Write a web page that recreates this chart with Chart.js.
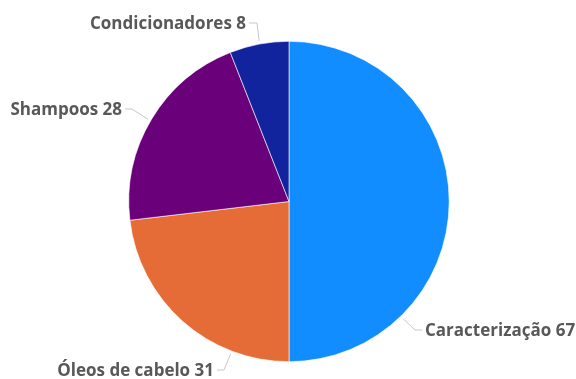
<!DOCTYPE html>
<html>
<head>
<meta charset="utf-8">
<script src="https://cdn.jsdelivr.net/npm/chart.js@4"></script>
<style>
  html, body { margin: 0; padding: 0; background: #fff; }
  #wrap { width: 576px; height: 379px; }
</style>
</head>
<body>
<div id="wrap"><canvas id="myChart"></canvas></div>
<script>
let categorias = ['Caracterização', 'Óleos de cabelo', 'Shampoos', 'Condicionadores'];
let valores = [67, 31, 28, 8];
let cores = ['#118DFF', '#E66C37', '#6B007B', '#12239E'];

// where each outside label sits (text edge x, middle y, side)
let rotulos = [
  { x: 425, y: 331, lado: 'dir' },
  { x: 214, y: 371, lado: 'esq' },
  { x: 122, y: 110, lado: 'esq' },
  { x: 246, y: 24, lado: 'esq' }
];

// labels outside the pie with a thin leader line
const rotulosFora = {
  id: 'rotulosFora',
  afterDraw(chart) {
    const ctx = chart.ctx;
    const arcos = chart.getDatasetMeta(0).data;
    ctx.save();
    ctx.font = '700 17px "Open Sans", sans-serif';
    ctx.textBaseline = 'middle';
    arcos.forEach((arco, i) => {
      const r = rotulos[i];
      const cx = arco.x, cy = arco.y, raio = arco.outerRadius;
      const fimX = r.lado === 'dir' ? r.x - 10 : r.x + 10;
      // direction towards the label, kept inside the slice
      let ang = Math.atan2(r.y - cy, fimX - cx);
      let a0 = arco.startAngle, a1 = arco.endAngle;
      while (ang < a0) ang += Math.PI * 2;
      while (ang > a0 + Math.PI * 2) ang -= Math.PI * 2;
      if (ang > a1) ang = a1 - 0.05;
      const px = cx + Math.cos(ang) * (raio + 3);
      const py = cy + Math.sin(ang) * (raio + 3);
      ctx.strokeStyle = '#c8c8c8';
      ctx.lineWidth = 1;
      ctx.beginPath();
      ctx.moveTo(px, py);
      if (i === 3) {
        ctx.lineTo(fimX + 1, r.y - 1);
        ctx.lineTo(r.x + 3, r.y - 1);
      } else {
        ctx.lineTo(fimX, r.y - 1);
        ctx.lineTo(r.lado === 'dir' ? r.x - 3 : r.x + 3, r.y - 1);
      }
      ctx.stroke();
      ctx.fillStyle = '#585858';
      ctx.textAlign = r.lado === 'dir' ? 'left' : 'right';
      ctx.fillText(categorias[i] + ' ' + valores[i], r.x, r.y);
    });
    ctx.restore();
  }
};

let ctx = document.getElementById('myChart').getContext('2d');

let myChart = new Chart(ctx, {
  type: 'pie',
  data: {
    labels: categorias,
    datasets: [{
      data: valores,
      backgroundColor: cores,
      borderColor: '#ffffff',
      borderWidth: 0.6
    }]
  },
  options: {
    responsive: true,
    maintainAspectRatio: false,
    animation: false,
    layout: { padding: { left: 128, right: 126, top: 41, bottom: 17 } },
    plugins: {
      legend: { display: false },
      tooltip: { enabled: false }
    }
  },
  plugins: [rotulosFora]
});
</script>
</body>
</html>
